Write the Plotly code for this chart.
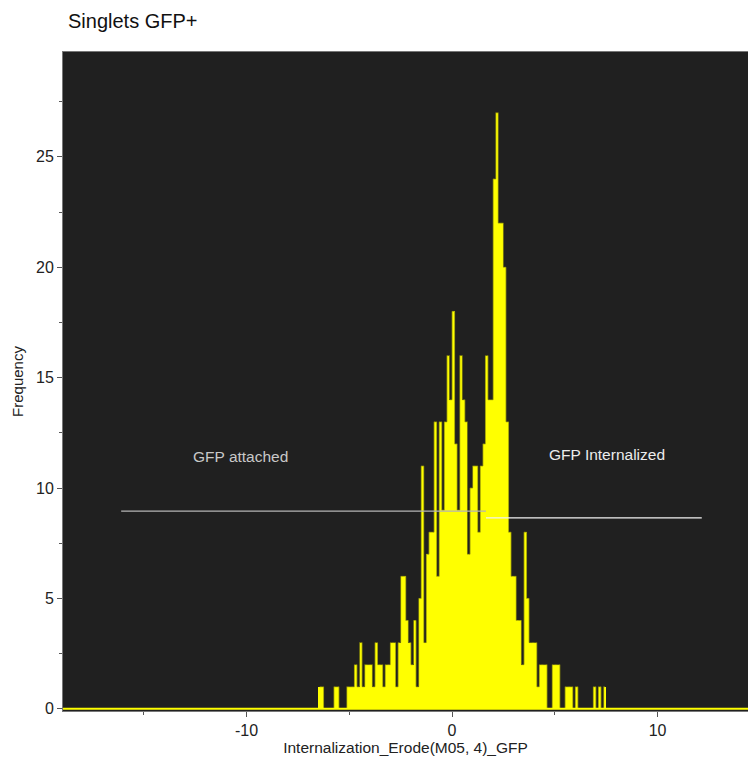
import plotly.graph_objects as go

# ---- data ----
bin_start = -6.5          # left edge of first bin (axis units)
bin_width = 0.125         # bin width (axis units)
counts = [
    1, 1, 0, 0, 0, 0, 1, 1, 0, 0,
    0, 1, 1, 1, 2, 1, 3, 1, 2, 2,
    2, 1, 3, 2, 2, 1, 2, 2, 3, 3,
    1, 3, 6, 6, 4, 3, 2, 4, 1, 5,
    11, 3, 7, 8, 8, 13, 6, 13, 9, 13,
    16, 14, 18, 12, 9, 16, 14, 13, 7, 10,
    11, 11, 8, 11, 12, 16, 14, 14, 24, 27,
    22, 22, 20, 13, 8, 6, 6, 4, 4, 2,
    8, 5, 3, 3, 3, 1, 2, 2, 2, 0,
    0, 2, 2, 2, 0, 0, 1, 1, 1, 0,
    1, 0, 0, 0, 0, 0, 0, 1, 0, 1, 0, 1,
]

gate_labels = ["GFP attached", "GFP Internalized"]
gate_x0 = [-16.1, 1.65]
gate_x1 = [1.65, 12.15]
gate_y = [8.95, 8.65]
gate_label_x = [-10.3, 7.55]
gate_label_y = [11.45, 11.5]
gate_line_colors = ["#b4b4b4", "#f2f2f2"]
gate_text_colors = ["#c8c8c8", "#ececec"]

x_tickvals = [-10, 0, 10]
x_ticktext = ["-10", "0", "10"]
y_tickvals = [0, 5, 10, 15, 20, 25]
y_ticktext = ["0", "5", "10", "15", "20", "25"]

# ---- figure ----
centers = [bin_start + bin_width * (i + 0.5) for i in range(len(counts))]

FONT = "Liberation Sans, Arial, Helvetica, sans-serif"
fig = go.Figure()

fig.add_trace(go.Bar(
    x=centers, y=counts, width=bin_width,
    marker=dict(color="#ffff00", line=dict(width=0)),
    hoverinfo="skip", showlegend=False,
))
# step outline of the histogram
fig.add_trace(go.Scatter(
    x=centers, y=counts, mode="lines",
    line=dict(shape="hvh", color="#8c8c0a", width=0.8),
    hoverinfo="skip", showlegend=False,
))

for i in range(len(gate_labels)):
    fig.add_trace(go.Scatter(
        x=[gate_x0[i], gate_x1[i]], y=[gate_y[i], gate_y[i]],
        mode="lines", line=dict(color=gate_line_colors[i], width=1.2),
        hoverinfo="skip", showlegend=False,
    ))
    fig.add_annotation(
        x=gate_label_x[i], y=gate_label_y[i], text=gate_labels[i],
        showarrow=False, xanchor="center", yanchor="middle",
        font=dict(family=FONT, size=15.5, color=gate_text_colors[i]),
    )

# yellow baseline along zero
fig.add_shape(type="line", xref="paper", x0=0, x1=1, yref="y", y0=0, y1=0,
              line=dict(color="#ffff00", width=2), layer="above")

fig.update_layout(
    width=748, height=760, autosize=False,
    margin=dict(l=63, r=0, t=52, b=49),
    paper_bgcolor="white", plot_bgcolor="#202020",
    bargap=0,
    font=dict(family=FONT, size=15, color="#222"),
    title=dict(text="Singlets GFP+", x=68 / 748, xanchor="left",
               xref="container",
               y=1 - 21 / 760, yanchor="middle",
               font=dict(family=FONT, size=20, color="#111")),
    xaxis=dict(
        range=[-18.93, 14.4], showgrid=False, zeroline=False,
        tickvals=x_tickvals, ticktext=x_ticktext,
        ticks="outside", ticklen=5, tickcolor="#555",
        minor=dict(dtick=5, tick0=0, ticks="outside", ticklen=3, tickcolor="#555"),
        showline=True, linecolor="#777", linewidth=1, mirror=True,
        title=dict(text="Internalization_Erode(M05, 4)_GFP", standoff=2,
                   font=dict(family=FONT, size=15.5, color="#222")),
        tickfont=dict(family=FONT, size=16, color="#222"),
    ),
    yaxis=dict(
        range=[-0.1, 29.75], showgrid=False, zeroline=False,
        tickvals=y_tickvals, ticktext=y_ticktext,
        ticks="outside", ticklen=5, tickcolor="#555",
        minor=dict(dtick=2.5, tick0=0, ticks="outside", ticklen=3, tickcolor="#555"),
        showline=True, linecolor="#777", linewidth=1, mirror=True,
        title=dict(text="Frequency", standoff=8,
                   font=dict(family=FONT, size=15, color="#222")),
        tickfont=dict(family=FONT, size=16, color="#222"),
    ),
)

fig.write_html("out.html")
